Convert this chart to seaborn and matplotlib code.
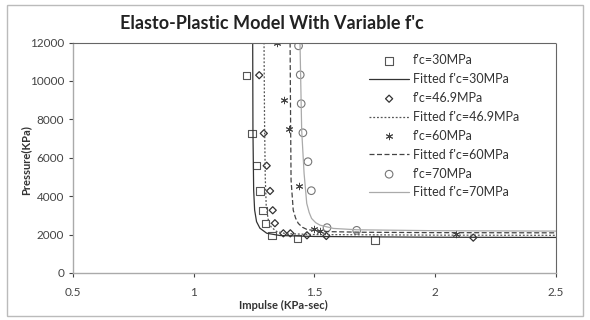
import seaborn as sns
import matplotlib.pyplot as plt
from matplotlib.patches import Rectangle
from matplotlib.ticker import FormatStrFormatter
import pandas as pd

# measured points (impulse KPa-sec, pressure KPa)
sq_I = [1.219, 1.241, 1.259, 1.274, 1.287, 1.296, 1.324, 1.429, 1.751]
sq_P = [10300, 7270, 5585, 4270, 3265, 2590, 1940, 1805, 1720]

dia_I = [1.271, 1.290, 1.302, 1.316, 1.327, 1.336, 1.371, 1.400, 1.469, 1.549, 2.158]
dia_P = [10300, 7270, 5585, 4270, 3265, 2590, 2065, 2065, 1960, 1925, 1840]

ast_I = [1.345, 1.375, 1.393, 1.436, 1.498, 1.523, 2.085]
ast_P = [12000, 9000, 7480, 4550, 2290, 2170, 2030]

cir_I = [1.434, 1.441, 1.445, 1.452, 1.473, 1.487, 1.552, 1.675]
cir_P = [11830, 10320, 8815, 7300, 5795, 4285, 2360, 2220]

# fitted curves
fit30_I = [1.244, 1.245, 1.248, 1.252, 1.260, 1.274, 1.302, 1.357, 1.5, 2.0, 2.5]
fit30_P = [12000, 7460, 4320, 3280, 2670, 2330, 2070, 1950, 1900, 1860, 1850]
fit47_I = [1.291, 1.293, 1.296, 1.300, 1.308, 1.320, 1.343, 1.38, 1.5, 2.0, 2.5]
fit47_P = [12000, 8000, 5000, 3500, 2800, 2400, 2160, 2050, 2000, 1970, 1960]
fit60_I = [1.399, 1.401, 1.403, 1.412, 1.422, 1.433, 1.450, 1.468, 1.523, 1.7, 2.0, 2.5]
fit60_P = [12000, 8000, 4830, 3270, 2850, 2580, 2380, 2270, 2160, 2120, 2100, 2090]
fit70_I = [1.440, 1.447, 1.457, 1.468, 1.478, 1.488, 1.505, 1.523, 1.578, 1.675, 2.0, 2.5]
fit70_P = [12000, 7430, 5180, 3620, 3150, 2840, 2620, 2490, 2320, 2250, 2200, 2180]

sns.set_style('white')
plt.rcParams['font.family'] = ['Lato', 'DejaVu Sans']

fig, ax = plt.subplots(figsize=(5.9, 3.2), dpi=100)
fig.subplots_adjust(left=0.124, right=0.942, bottom=0.147, top=0.867)

# fitted lines
sns.lineplot(x=fit30_I, y=fit30_P, sort=False, estimator=None, ax=ax, color='#333333',
             linewidth=0.9, label="Fitted f'c=30MPa")
sns.lineplot(x=fit47_I, y=fit47_P, sort=False, estimator=None, ax=ax, color='#555555',
             linewidth=0.9, linestyle=(0, (1.5, 1.5)), label="Fitted f'c=46.9MPa")
sns.lineplot(x=fit60_I, y=fit60_P, sort=False, estimator=None, ax=ax, color='#444444',
             linewidth=0.9, linestyle=(0, (4, 2)), label="Fitted f'c=60MPa")
sns.lineplot(x=fit70_I, y=fit70_P, sort=False, estimator=None, ax=ax, color='#aaaaaa',
             linewidth=0.9, label="Fitted f'c=70MPa")

# data points
sns.scatterplot(x=sq_I, y=sq_P, ax=ax, marker='s', s=28, facecolor='none',
                edgecolor='#555555', linewidth=0.8, label="f'c=30MPa")
sns.scatterplot(x=dia_I, y=dia_P, ax=ax, marker='D', s=13, facecolor='none',
                edgecolor='#333333', linewidth=0.9, label="f'c=46.9MPa")
sns.scatterplot(x=ast_I, y=ast_P, ax=ax, marker=(6, 2, 0), s=22, color='#444444',
                linewidth=0.7, label="f'c=60MPa")
sns.scatterplot(x=cir_I, y=cir_P, ax=ax, marker='o', s=30, facecolor='none',
                edgecolor='#777777', linewidth=0.8, label="f'c=70MPa")

ax.set_xlim(0.5, 2.5)
ax.set_ylim(0, 12000)
ax.set_xticks([0.5, 1, 1.5, 2, 2.5])
ax.set_yticks(range(0, 12001, 2000))
ax.xaxis.set_major_formatter(FormatStrFormatter('%g'))
ax.tick_params(axis='both', labelsize=8.5, colors='#444444', length=3, width=0.8,
               direction='out', bottom=True, left=True)
ax.tick_params(axis='x', pad=7)

for s in ['left', 'bottom']:
    ax.spines[s].set_color('#aaaaaa')
    ax.spines[s].set_linewidth(1)
for s in ['top', 'right']:
    ax.spines[s].set_color('#666666')
    ax.spines[s].set_linewidth(0.8)
    ax.spines[s].set_linestyle((0, (1.5, 1)))

ax.set_xlabel('')
ax.set_ylabel('')
fig.text(0.48, 0.045, 'Impulse (KPa-sec)', ha='center', va='center',
         fontsize=8, fontweight='bold', color='#333333')
fig.text(0.043, 0.50, 'Pressure(KPa)', ha='center', va='center', rotation=90,
         fontsize=8, fontweight='bold', color='#333333')
fig.text(0.461, 0.928, "Elasto-Plastic Model With Variable f'c", ha='center', va='center',
         fontsize=13, fontweight='bold', color='#222222')

order = ["f'c=30MPa", "Fitted f'c=30MPa", "f'c=46.9MPa", "Fitted f'c=46.9MPa",
         "f'c=60MPa", "Fitted f'c=60MPa", "f'c=70MPa", "Fitted f'c=70MPa"]
h, l = ax.get_legend_handles_labels()
hd = dict(zip(l, h))
ax.legend([hd[k] for k in order], order, loc='upper left',
          bbox_to_anchor=(0.615, 0.85), bbox_transform=fig.transFigure,
          frameon=False, fontsize=9, handlelength=3.2, labelspacing=0.55,
          borderpad=0, handletextpad=0.3, labelcolor='#333333')

fig.patches.append(Rectangle((0.012, 0.012), 0.976, 0.972, transform=fig.transFigure,
                             fill=False, edgecolor='#bbbbbb', linewidth=1))

fig.savefig('out.png', dpi=100)
